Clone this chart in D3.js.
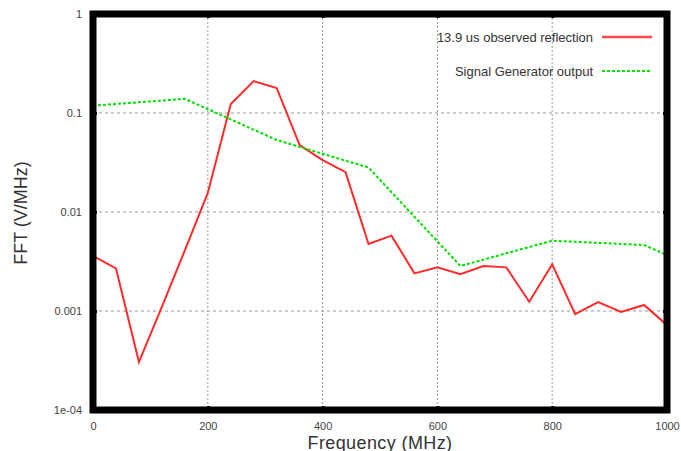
<!DOCTYPE html>
<html>
<head>
<meta charset="utf-8">
<script src="https://cdn.jsdelivr.net/npm/d3@7"></script>
<style>
  body { margin: 0; background: #fff; }
  text { font-family: "Liberation Sans", Arial, sans-serif; }
</style>
</head>
<body>
<svg id="chart" width="681" height="451"></svg>
<script>
// data
var reflFreq = [0, 40, 80, 120, 160, 200, 240, 280, 320, 360, 400, 440, 480, 520, 560, 600, 640, 680, 720, 760, 800, 840, 880, 920, 960, 1000];
var reflValues = [0.0036, 0.0027, 0.000305, 0.0011, 0.0041, 0.0156, 0.123, 0.21, 0.179, 0.0475, 0.0335, 0.0253, 0.00475, 0.00577, 0.0024, 0.00276, 0.00235, 0.00285, 0.00276, 0.00124, 0.00296, 0.00093, 0.00123, 0.00098, 0.00115, 0.00072];
var genFreq = [0, 160, 320, 480, 640, 800, 960, 1000];
var genValues = [0.1185, 0.139, 0.0534, 0.0281, 0.00285, 0.00513, 0.00464, 0.00368];
var xTicks = [0, 200, 400, 600, 800, 1000];
var yTicks = [1e-4, 1e-3, 1e-2, 1e-1, 1];
var yTickLabels = ["1e-04", "0.001", "0.01", "0.1", "1"];
var seriesNames = ["13.9 us observed reflection", "Signal Generator output"];

var svg = d3.select("#chart"),
    plotLeft = 93, plotRight = 667, plotTop = 14, plotBottom = 410;

var x = d3.scaleLinear().domain([0, 1000]).range([plotLeft, plotRight]);
var y = d3.scaleLog().domain([1e-4, 1]).range([plotBottom, plotTop]);

// grid
var grid = svg.append("g");
grid.selectAll("line.h")
  .data(yTicks.slice(1, -1))
  .enter().append("line")
    .attr("class", "h")
    .attr("x1", plotLeft).attr("x2", plotRight)
    .attr("y1", function(d) { return y(d); })
    .attr("y2", function(d) { return y(d); })
    .attr("stroke", "#999").attr("stroke-dasharray", "3,3");
grid.selectAll("line.v")
  .data(xTicks.slice(1, -1))
  .enter().append("line")
    .attr("class", "v")
    .attr("y1", plotTop).attr("y2", plotBottom)
    .attr("x1", function(d) { return x(d); })
    .attr("x2", function(d) { return x(d); })
    .attr("stroke", "#999").attr("stroke-dasharray", "2,2");

// clipped series
svg.append("clipPath").attr("id", "clip")
  .append("rect").attr("x", plotLeft).attr("y", plotTop)
  .attr("width", plotRight - plotLeft).attr("height", plotBottom - plotTop);

var line = d3.line()
  .x(function(d) { return x(d[0]); })
  .y(function(d) { return y(d[1]); });

var plot = svg.append("g").attr("clip-path", "url(#clip)");
plot.append("path")
  .datum(d3.zip(reflFreq, reflValues))
  .attr("d", line)
  .attr("fill", "none").attr("stroke", "#ff2a2a").attr("stroke-width", 2);
plot.append("path")
  .datum(d3.zip(genFreq, genValues))
  .attr("d", line)
  .attr("fill", "none").attr("stroke", "#00e000").attr("stroke-width", 2)
  .attr("stroke-dasharray", "3,2");

// axes (ticks inward, labels outside)
var xAxis = svg.append("g").attr("transform", "translate(0," + plotBottom + ")")
  .call(d3.axisBottom(x).tickValues(xTicks).tickSize(-4).tickPadding(12).tickFormat(d3.format("d")));
var xTop = svg.append("g").attr("transform", "translate(0," + plotTop + ")")
  .call(d3.axisTop(x).tickValues(xTicks).tickSize(-4).tickFormat(""));
var yAxis = svg.append("g").attr("transform", "translate(" + plotLeft + ",0)")
  .call(d3.axisLeft(y).tickValues(yTicks).tickSize(-4).tickPadding(11)
    .tickFormat(function(d, i) { return yTickLabels[i]; }));
var yRight = svg.append("g").attr("transform", "translate(" + plotRight + ",0)")
  .call(d3.axisRight(y).tickValues(yTicks).tickSize(-4).tickFormat(""));

[xAxis, xTop, yAxis, yRight].forEach(function(a) {
  a.select(".domain").remove();
  a.selectAll(".tick line").attr("stroke", "#000").attr("stroke-width", 3);
  a.selectAll("text").attr("fill", "#444").style("font-size", "11px");
});

// thick frame
svg.append("rect")
  .attr("x", plotLeft).attr("y", plotTop)
  .attr("width", plotRight - plotLeft).attr("height", plotBottom - plotTop)
  .attr("fill", "none").attr("stroke", "#000").attr("stroke-width", 7);

// axis titles
svg.append("text")
  .attr("x", 380).attr("y", 449)
  .attr("text-anchor", "middle")
  .attr("fill", "#333").style("font-size", "18px").style("letter-spacing", "0.4px")
  .text("Frequency (MHz)");
svg.append("text")
  .attr("transform", "translate(27,213) rotate(-90)")
  .attr("text-anchor", "middle")
  .attr("fill", "#333").style("font-size", "18px")
  .text("FFT (V/MHz)");

// legend
var legend = svg.append("g");
var legendY = [37, 71];
legend.selectAll("text")
  .data(seriesNames)
  .enter().append("text")
    .attr("x", 593)
    .attr("y", function(d, i) { return legendY[i] + 4.5; })
    .attr("text-anchor", "end")
    .attr("fill", "#333").style("font-size", "13px")
    .text(function(d) { return d; });
legend.append("line")
  .attr("x1", 602).attr("x2", 652).attr("y1", legendY[0]).attr("y2", legendY[0])
  .attr("stroke", "#ff4a4a").attr("stroke-width", 2.5);
legend.append("line")
  .attr("x1", 602).attr("x2", 652).attr("y1", legendY[1]).attr("y2", legendY[1])
  .attr("stroke", "#00e000").attr("stroke-width", 2).attr("stroke-dasharray", "3,2");
</script>
</body>
</html>
